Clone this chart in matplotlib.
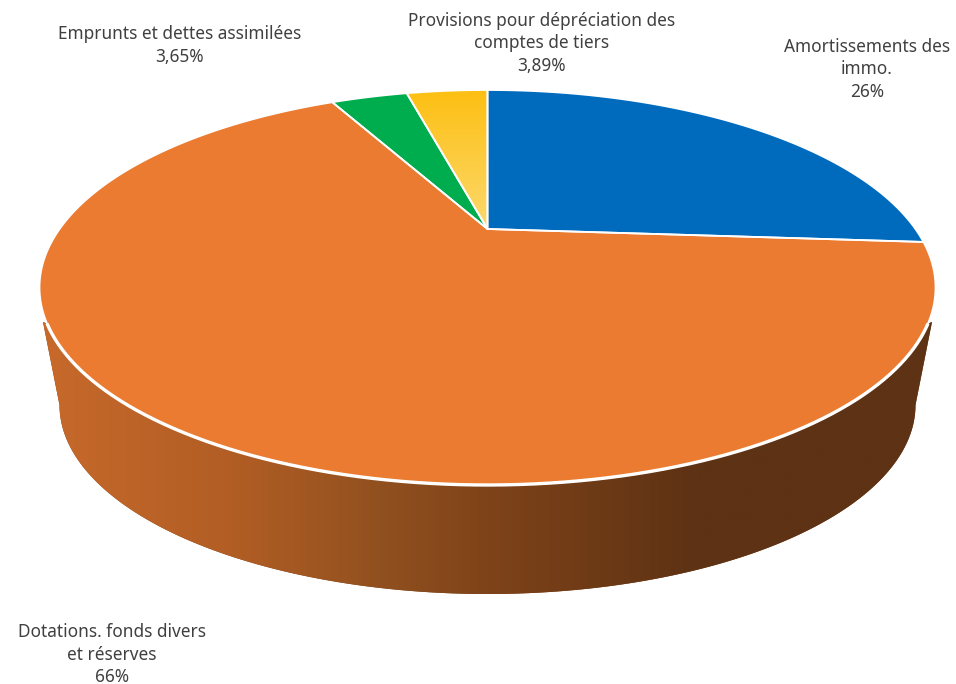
import numpy as np
import matplotlib
matplotlib.use("Agg")
import matplotlib.pyplot as plt
from matplotlib.colors import LinearSegmentedColormap

categories = ["Amortissements des\nimmo.", "Dotations. fonds divers\net réserves",
              "Emprunts et dettes assimilées", "Provisions pour dépréciation des\ncomptes de tiers"]
values = [26, 66, 3.65, 3.89]
value_labels = ["26%", "66%", "3,65%", "3,89%"]
colors = ["#006BBD", "#EA7B31", "#00AD4E", None]

plt.rcParams['font.family'] = ['Noto Sans', 'DejaVu Sans']
TXT = "#404040"
W, H = 956, 684
fig = plt.figure(figsize=(W / 100, H / 100), dpi=100)
ax = fig.add_axes([0, 0, 1, 1])
ax.set_xlim(0, W)
ax.set_ylim(H, 0)
ax.axis("off")

# perspective projection of the unit disc
x0, y0, rx = 487.5, 229.0, 448.0
up, down = 139.0, 256.0
k = (down - up) / (down + up)
a = up * (1 + k)
b = rx * np.sqrt(1 - k ** 2)


def project(theta_deg):
    t = np.radians(theta_deg)
    X, Y = np.cos(t), np.sin(t)
    d = 1 + k * Y
    return x0 + b * X / d, y0 - a * Y / d


def wedge_xy(t1, t2):
    n = max(int(abs(t2 - t1)), 2) * 2
    xs, ys = project(np.linspace(t1, t2, n))
    return np.r_[x0, xs], np.r_[y0, ys]


# side wall
wcx, wcy, wrx, wry = 487.5, 405.0, 428.0, 189.0
tb = np.radians(np.linspace(180, 360, 240))
bx = wcx + wrx * np.cos(tb)
by = wcy - wry * np.sin(tb)
tt = np.linspace(200, 340, 300)
fx, fy = project(tt)
mask = fy >= 322
fx, fy = fx[mask], fy[mask]
wall_x = np.r_[43, bx, 932, fx[::-1]]
wall_y = np.r_[322, by, 322, fy[::-1]]
wall = ax.fill(wall_x, wall_y, color="#7a4018", lw=0, zorder=1)[0]
wall_pos = [43, 240, 380, 487, 600, 695, 932]
wall_col = ["#C7692B", "#B05D24", "#91501F", "#7F4319", "#6D3A16", "#5E3214", "#5E3214"]
span = wall_pos[-1] - wall_pos[0]
wcm = LinearSegmentedColormap.from_list("wall", [((p - wall_pos[0]) / span, c) for p, c in zip(wall_pos, wall_col)])
im = ax.imshow(np.linspace(0, 1, 512)[None, :], cmap=wcm, extent=[43, 932, 600, 300],
               aspect="auto", zorder=1.1, interpolation="bilinear")
im.set_clip_path(wall)

# top face
fracs = np.array(values) / np.sum(values) * 360
starts = 90 - np.r_[0, np.cumsum(fracs)[:-1]]
ends = starts - fracs
ycm = LinearSegmentedColormap.from_list("yel", ["#FCBF12", "#FDD96E"])
for s, e, c in zip(starts, ends, colors):
    xs, ys = wedge_xy(s, e)
    if c is None:
        p = ax.fill(xs, ys, color="#FCCB40", lw=0, zorder=2)[0]
        g = ax.imshow(np.linspace(0, 1, 256)[:, None], cmap=ycm, extent=[400, 495, 229, 90],
                      aspect="auto", zorder=2.1, interpolation="bilinear")
        g.set_clip_path(p)
    else:
        ax.fill(xs, ys, color=c, lw=0, zorder=2)
    ax.fill(xs, ys, facecolor="none", edgecolor="white", lw=1.3, zorder=3, joinstyle="round")

# thick white front edge
ax.plot(fx, fy, color="white", lw=2.4, zorder=4, solid_capstyle="butt")

ax.set_xlim(0, W)
ax.set_ylim(H, 0)

# labels
label_pos = [(867, 47), (112, 632), (180, 34), (542, 21)]
FS = 12.4
LS = 22.5
for cat, val, (lx, ly) in zip(categories, value_labels, label_pos):
    for i, line in enumerate((cat + "\n" + val).split("\n")):
        ax.text(lx, ly + i * LS, line, ha="center", va="center", fontsize=FS, color=TXT, zorder=5)

fig.savefig("out.png", dpi=100)
